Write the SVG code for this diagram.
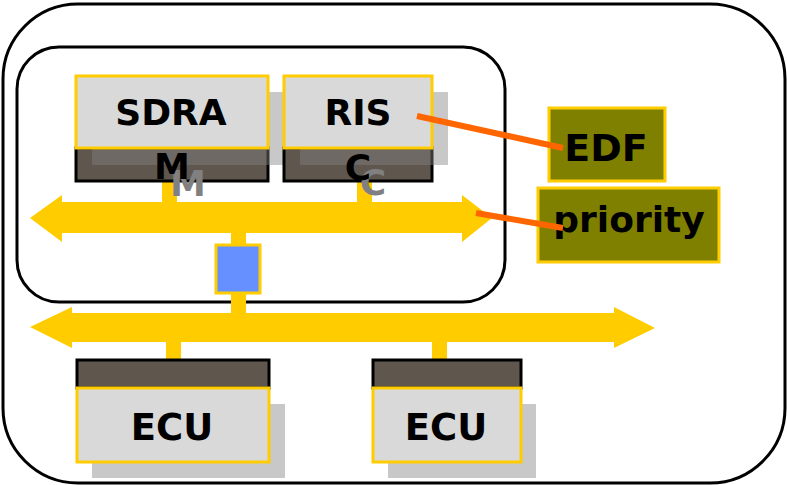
<svg xmlns="http://www.w3.org/2000/svg" width="787" height="485" viewBox="0 0 787 485">
<style>
.frame{fill:none;stroke:#000;stroke-width:3}
.bus{fill:#ffcc00}
.light{fill:#d9d9d9;stroke:#ffcc00;stroke-width:3}
.dark{fill:#5f574e;stroke:#000;stroke-width:3}
.shadow{fill:#828282;fill-opacity:0.44}
.olive{fill:#808000;stroke:#ffcc00;stroke-width:3}
.t{font-family:"DejaVu Sans","Liberation Sans",sans-serif;font-weight:bold;fill:#000;text-anchor:middle}
.ts{font-family:"DejaVu Sans","Liberation Sans",sans-serif;font-weight:bold;fill:#808080;text-anchor:middle}
.link{stroke:#ff6600;stroke-width:6;fill:none}
</style>
<rect width="787" height="485" fill="#fff"/>
<rect id="outer" class="frame" x="3" y="4" width="782" height="479" rx="75"/>
<rect id="inner" class="frame" x="17" y="47" width="488" height="255" rx="42"/>
<g id="connectors">
  <polygon class="bus" points="30,218 62,195 62,202 462,202 462,195 492,218 462,242 462,233 62,233 62,242"/>
  <polygon class="bus" points="30,327 72,307 72,313 614,313 614,307 655,328 614,348 614,342 72,342 72,348"/>
  <rect class="bus" x="162" y="180" width="15" height="24"/>
  <rect class="bus" x="357" y="180" width="15" height="24"/>
  <rect class="bus" x="231" y="231" width="15" height="84"/>
  <rect class="bus" x="166" y="340" width="15" height="20"/>
  <rect class="bus" x="432" y="340" width="15" height="20"/>
</g>
<g id="sdram">
  <rect class="dark" x="76" y="148" width="192" height="33"/>
  <rect class="shadow" x="92" y="92" width="193" height="73"/>
  <rect class="light" x="76" y="76" width="192" height="72"/>
  <text class="t" x="171" y="125" font-size="36">SDRA</text>
  <text class="ts" x="188" y="196" font-size="36">M</text>
  <text class="t" x="172" y="179" font-size="36">M</text>
</g>
<g id="risc">
  <rect class="dark" x="284" y="148" width="148" height="33"/>
  <rect class="shadow" x="300" y="92" width="148" height="73"/>
  <rect class="light" x="284" y="76" width="148" height="72"/>
  <text class="t" x="358" y="125" font-size="36">RIS</text>
  <text class="ts" x="373" y="195" font-size="36">C</text>
  <text class="t" x="358" y="180" font-size="36">C</text>
</g>
<g id="gateway">
  <rect x="216" y="245" width="44" height="48" fill="#6690ff" stroke="#ffcc00" stroke-width="3"/>
</g>
<g id="ecu1">
  <rect class="shadow" x="92" y="404" width="193" height="74"/>
  <rect class="dark" x="77" y="360" width="192" height="28"/>
  <rect class="light" x="77" y="388" width="192" height="74"/>
  <text class="t" x="172" y="440" font-size="37">ECU</text>
</g>
<g id="ecu2">
  <rect class="shadow" x="388" y="404" width="148" height="74"/>
  <rect class="dark" x="373" y="360" width="148" height="28"/>
  <rect class="light" x="373" y="388" width="148" height="74"/>
  <text class="t" x="446" y="440" font-size="37">ECU</text>
</g>
<g id="edf">
  <rect class="olive" x="549" y="108" width="116" height="73"/>
  <text class="t" x="606" y="161" font-size="38">EDF</text>
</g>
<g id="priority">
  <rect class="olive" x="538" y="188" width="181" height="74"/>
  <text class="t" x="629" y="232" font-size="36">priority</text>
</g>
<g id="links">
  <line class="link" x1="417" y1="116" x2="563" y2="148"/>
  <line class="link" x1="476" y1="213" x2="563" y2="228"/>
</g>
</svg>
